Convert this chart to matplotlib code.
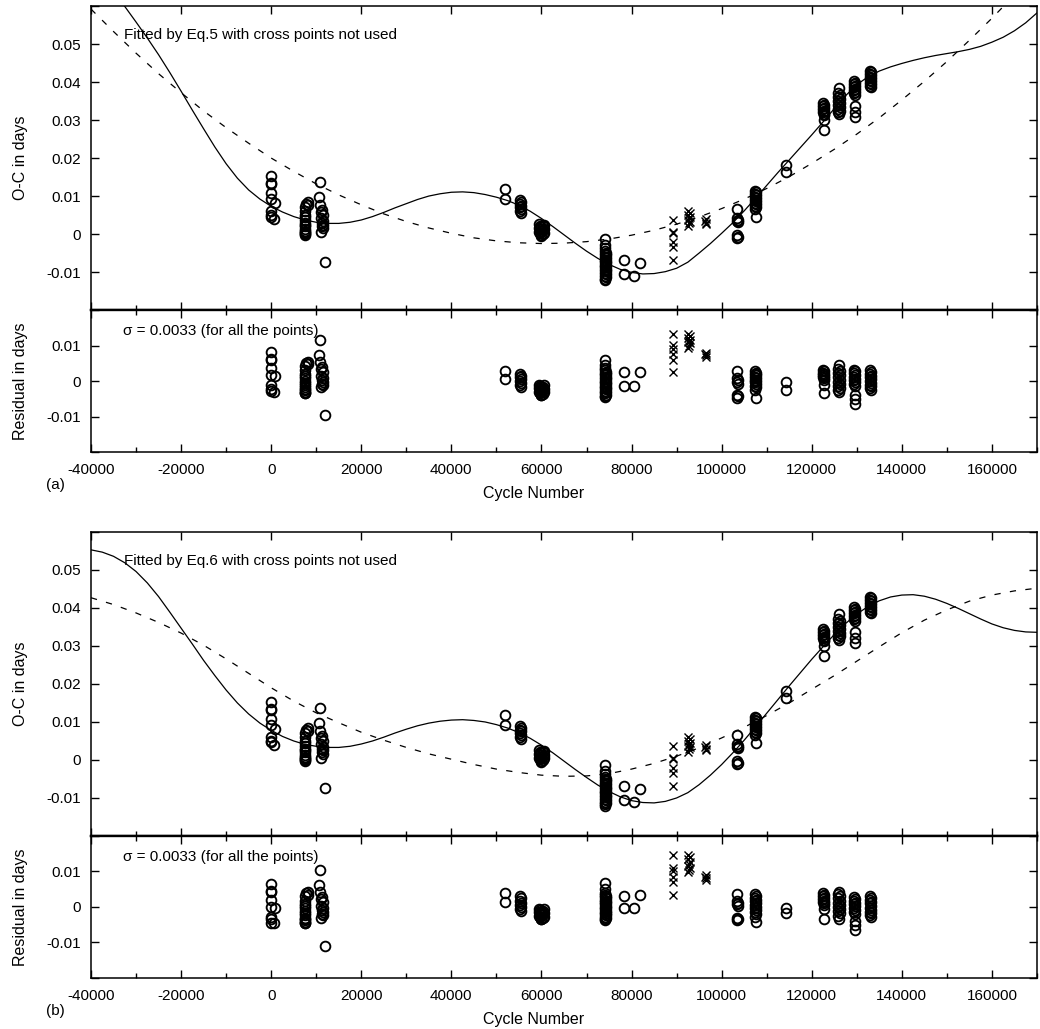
import matplotlib
matplotlib.use('Agg')
import matplotlib.pyplot as plt
import numpy as np
from matplotlib.ticker import MultipleLocator, FixedLocator

plt.rcParams['font.family'] = ['Liberation Sans', 'DejaVu Sans']
plt.rcParams['axes.unicode_minus'] = False

# ---- observed O-C (open circles), shared by both panels ----
cyc_o = [0, 0, 0, 0, 0, 800, 0, 0, 0, 700,
         8200, 7800, 8200, 7600, 7600, 7600, 7600, 7600, 7600, 7600, 7600, 7600, 7600, 7600, 7600, 7600, 7600,
         10900, 10700, 10800, 11300, 11100, 11500, 11000, 11400, 11200, 11600, 11300, 11500, 11100, 12000,
         51800, 51800,
         55200, 55500, 55200, 55500, 55200, 55500, 55200, 55500,
         59400, 60600, 59700, 60300, 60000, 59400, 60600, 59700, 60300, 60000, 59400, 60600, 59700, 60300, 60000, 60000,
         74100, 74000, 74200,
         74000, 74400, 74100, 74300, 74000, 74400, 74100, 74300, 74000, 74400, 74100,
         74300, 74000, 74400, 74100, 74300, 74000, 74400, 74100, 74300, 74000, 74200,
         78300, 78300, 80500, 81800,
         103500, 103500, 103700, 103500, 103700, 103500, 103700, 103500,
         107400, 107700, 107400, 107700, 107400, 107700, 107400, 107700, 107400, 107700, 107400, 107700, 107500, 107700,
         114200, 114200,
         122600, 122800, 122600, 122800, 122600, 122800, 122600, 122800, 122700, 122700, 122700,
         126000, 125900, 126200, 125900, 126200, 125900, 126200, 125900, 126200, 125900, 126200, 125900, 126100,
         129400, 129700, 129400, 129700, 129400, 129700, 129400, 129700, 129400, 129700, 129500, 129500, 129500,
         133000, 133200, 133000, 133200, 133000, 133200, 133000, 133200, 133000, 133200, 133000, 133200]

oc_o = [0.0153, 0.0135, 0.0131, 0.0109, 0.0092, 0.0082, 0.0061, 0.0050, 0.0046, 0.0039,
        0.0085, 0.0080, 0.0077, 0.0072, 0.0060, 0.0050, 0.0045, 0.0038, 0.0030, 0.0025, 0.0020, 0.0012, 0.0008, 0.0005, 0.0002, 0.0000, -0.0002,
        0.0138, 0.0097, 0.0076, 0.0063, 0.0058, 0.0050, 0.0042, 0.0035, 0.0030, 0.0025, 0.0020, 0.0015, 0.0006, -0.0073,
        0.0118, 0.0093,
        0.0089, 0.0085, 0.0080, 0.0075, 0.0070, 0.0065, 0.0060, 0.0055,
        0.0026, 0.0024, 0.0022, 0.0020, 0.0018, 0.0016, 0.0014, 0.0012, 0.0010, 0.0008, 0.0006, 0.0004, 0.0002, 0.0000, -0.0003, -0.0006,
        -0.0014, -0.0029, -0.0038,
        -0.0045, -0.0049, -0.0053, -0.0056, -0.0060, -0.0063, -0.0067, -0.0070, -0.0074, -0.0077, -0.0081,
        -0.0084, -0.0088, -0.0091, -0.0095, -0.0098, -0.0102, -0.0106, -0.0110, -0.0113, -0.0117, -0.0120,
        -0.0068, -0.0105, -0.0110, -0.0077,
        0.0065, 0.0042, 0.0038, 0.0035, 0.0032, -0.0003, -0.0008, -0.0011,
        0.0113, 0.0110, 0.0106, 0.0102, 0.0098, 0.0094, 0.0090, 0.0086, 0.0082, 0.0078, 0.0074, 0.0070, 0.0066, 0.0045,
        0.0182, 0.0164,
        0.0345, 0.0340, 0.0336, 0.0332, 0.0328, 0.0324, 0.0320, 0.0316, 0.0312, 0.0300, 0.0273,
        0.0385, 0.0370, 0.0365, 0.0360, 0.0355, 0.0350, 0.0345, 0.0340, 0.0335, 0.0330, 0.0325, 0.0320, 0.0315,
        0.0402, 0.0398, 0.0394, 0.0390, 0.0386, 0.0382, 0.0378, 0.0374, 0.0370, 0.0366, 0.0336, 0.0322, 0.0309,
        0.0430, 0.0426, 0.0422, 0.0418, 0.0414, 0.0410, 0.0406, 0.0402, 0.0398, 0.0394, 0.0390, 0.0386]

res_a_o = [0.0082, 0.0061, 0.0058, 0.0036, 0.0017, 0.0013, -0.0011, -0.0023, -0.0028, -0.0031,
           0.0055, 0.0050, 0.0047, 0.0042, 0.0030, 0.0020, 0.0015, 0.0008, 0.0000, -0.0005, -0.0010, -0.0018, -0.0022, -0.0026, -0.0030, -0.0033, -0.0035,
           0.0115, 0.0074, 0.0053, 0.0040, 0.0035, 0.0025, 0.0015, 0.0008, 0.0003, -0.0002, -0.0008, -0.0012, -0.0018, -0.0097,
           0.0029, 0.0006,
           0.0020, 0.0015, 0.0010, 0.0005, 0.0000, -0.0005, -0.0010, -0.0016,
           -0.0010, -0.0012, -0.0014, -0.0016, -0.0018, -0.0020, -0.0022, -0.0024, -0.0026, -0.0028, -0.0030, -0.0032, -0.0034, -0.0036, -0.0038, -0.0040,
           0.0058, 0.0044, 0.0036,
           0.0030, 0.0026, 0.0023, 0.0019, 0.0016, 0.0012, 0.0009, 0.0005, 0.0001, -0.0002, -0.0006,
           -0.0009, -0.0013, -0.0016, -0.0020, -0.0023, -0.0027, -0.0031, -0.0034, -0.0038, -0.0041, -0.0045,
           0.0025, -0.0013, -0.0013, 0.0025,
           0.0027, 0.0008, 0.0003, -0.0002, -0.0007, -0.0038, -0.0043, -0.0047,
           0.0028, 0.0024, 0.0020, 0.0016, 0.0012, 0.0008, 0.0004, 0.0000, -0.0004, -0.0008, -0.0013, -0.0018, -0.0024, -0.0049,
           -0.0004, -0.0025,
           0.0030, 0.0027, 0.0024, 0.0021, 0.0018, 0.0015, 0.0012, 0.0008, 0.0004, -0.0010, -0.0033,
           0.0045, 0.0034, 0.0028, 0.0022, 0.0016, 0.0010, 0.0004, -0.0002, -0.0008, -0.0014, -0.0020, -0.0025, -0.0030,
           0.0032, 0.0027, 0.0022, 0.0017, 0.0012, 0.0007, 0.0002, -0.0003, -0.0008, -0.0013, -0.0038, -0.0051, -0.0065,
           0.0030, 0.0025, 0.0020, 0.0015, 0.0010, 0.0005, 0.0000, -0.0005, -0.0010, -0.0015, -0.0020, -0.0025]

res_b_o = [0.0065, 0.0046, 0.0041, 0.0019, 0.0001, -0.0002, -0.0027, -0.0035, -0.0044, -0.0046,
           0.0042, 0.0038, 0.0035, 0.0030, 0.0018, 0.0008, 0.0003, -0.0004, -0.0012, -0.0017, -0.0022, -0.0030, -0.0034, -0.0038, -0.0041, -0.0044, -0.0046,
           0.0103, 0.0062, 0.0041, 0.0028, 0.0023, 0.0013, 0.0003, -0.0004, -0.0009, -0.0014, -0.0020, -0.0024, -0.0030, -0.0109,
           0.0038, 0.0014,
           0.0030, 0.0024, 0.0018, 0.0012, 0.0006, 0.0000, -0.0006, -0.0011,
           -0.0005, -0.0007, -0.0009, -0.0011, -0.0013, -0.0015, -0.0017, -0.0019, -0.0021, -0.0023, -0.0025, -0.0027, -0.0029, -0.0031, -0.0033, -0.0035,
           0.0067, 0.0051, 0.0040,
           0.0034, 0.0031, 0.0027, 0.0024, 0.0020, 0.0017, 0.0013, 0.0010, 0.0007, 0.0003, 0.0000,
           -0.0004, -0.0007, -0.0010, -0.0014, -0.0017, -0.0021, -0.0024, -0.0027, -0.0031, -0.0034, -0.0037,
           0.0031, -0.0004, -0.0004, 0.0033,
           0.0036, 0.0017, 0.0012, 0.0008, 0.0003, -0.0030, -0.0034, -0.0037,
           0.0036, 0.0031, 0.0026, 0.0021, 0.0016, 0.0011, 0.0006, 0.0001, -0.0004, -0.0009, -0.0015, -0.0021, -0.0028, -0.0043,
           -0.0002, -0.0018,
           0.0038, 0.0034, 0.0030, 0.0026, 0.0022, 0.0018, 0.0014, 0.0010, 0.0005, -0.0007, -0.0035,
           0.0043, 0.0036, 0.0030, 0.0024, 0.0018, 0.0012, 0.0006, 0.0000, -0.0006, -0.0012, -0.0018, -0.0026, -0.0035,
           0.0027, 0.0022, 0.0017, 0.0012, 0.0007, 0.0002, -0.0003, -0.0008, -0.0013, -0.0021, -0.0040, -0.0052, -0.0066,
           0.0030, 0.0025, 0.0020, 0.0015, 0.0010, 0.0004, -0.0002, -0.0008, -0.0013, -0.0018, -0.0023, -0.0027]

# ---- points not used in the fit (crosses) ----
cyc_x = [89200, 89200, 89200, 89200, 89200, 89200,
         92500, 92900, 92600, 93000, 92700, 92500, 92900, 92700, 92600,
         96500, 96400, 96600, 96500]
oc_x = [0.0036, 0.0006, 0.0002, -0.0020, -0.0033, -0.0068,
        0.0060, 0.0055, 0.0050, 0.0045, 0.0042, 0.0038, 0.0033, 0.0028, 0.0022,
        0.0040, 0.0034, 0.0030, 0.0026]
res_a_x = [0.0132, 0.0101, 0.0091, 0.0077, 0.0058, 0.0025,
           0.0133, 0.0128, 0.0122, 0.0117, 0.0113, 0.0110, 0.0106, 0.0100, 0.0093,
           0.0080, 0.0075, 0.0072, 0.0068]
res_b_x = [0.0146, 0.0110, 0.0101, 0.0084, 0.0070, 0.0033,
           0.0146, 0.0140, 0.0134, 0.0128, 0.0122, 0.0116, 0.0110, 0.0104, 0.0098,
           0.0089, 0.0085, 0.0081, 0.0077]

# ---- fitted curves ----
cyc_fine = np.arange(-40000, 170001, 2500)   # solid fits, every 2500 cycles
cyc_fit = np.arange(-40000, 170001, 5000)    # dashed fits, every 5000 cycles

fit_a = [0.0725, 0.0682, 0.0640, 0.0599, 0.0558, 0.0516, 0.0472, 0.0425, 0.0376, 0.0326,
         0.0277, 0.0229, 0.0185, 0.0147, 0.0116, 0.0092, 0.0073, 0.0058, 0.0046, 0.0037,
         0.0031, 0.0028, 0.0028, 0.0031, 0.0037, 0.0046, 0.0057, 0.0069, 0.0080, 0.0091,
         0.0100, 0.0106, 0.0110, 0.0111, 0.0109, 0.0104, 0.0097, 0.0088, 0.0076, 0.0060,
         0.0041, 0.0020, -0.0002, -0.0024, -0.0045, -0.0064, -0.0080, -0.0093, -0.0101, -0.0105,
         -0.0104, -0.0099, -0.0090, -0.0074, -0.0050, -0.0025, 0.0002, 0.0030, 0.0061, 0.0094,
         0.0128, 0.0162, 0.0195, 0.0228, 0.0261, 0.0295, 0.0330, 0.0364, 0.0393, 0.0414,
         0.0429, 0.0440, 0.0449, 0.0457, 0.0464, 0.0470, 0.0475, 0.0480, 0.0486, 0.0494,
         0.0505, 0.0518, 0.0535, 0.0556, 0.0582]
quad_a = [0.0592, 0.0533, 0.0476, 0.0422, 0.0372, 0.0324, 0.0280, 0.0239, 0.0200, 0.0165,
          0.0132, 0.0103, 0.0077, 0.0053, 0.0033, 0.0016, 0.0002, -0.0010, -0.0018, -0.0023,
          -0.0025, -0.0024, -0.0020, -0.0013, -0.0003, 0.0010, 0.0026, 0.0045, 0.0067, 0.0092,
          0.0120, 0.0151, 0.0186, 0.0223, 0.0263, 0.0306, 0.0353, 0.0402, 0.0454, 0.0510,
          0.0568, 0.0629, 0.0694]
fit_b = [0.0553, 0.0547, 0.0536, 0.0519, 0.0496, 0.0466, 0.0430, 0.0389, 0.0347, 0.0305,
         0.0262, 0.0222, 0.0184, 0.0150, 0.0121, 0.0097, 0.0078, 0.0062, 0.0050, 0.0041,
         0.0036, 0.0033, 0.0033, 0.0036, 0.0042, 0.0050, 0.0060, 0.0071, 0.0081, 0.0090,
         0.0097, 0.0102, 0.0105, 0.0106, 0.0104, 0.0100, 0.0093, 0.0084, 0.0072, 0.0057,
         0.0039, 0.0019, -0.0003, -0.0025, -0.0046, -0.0066, -0.0083, -0.0097, -0.0107, -0.0112,
         -0.0113, -0.0109, -0.0100, -0.0086, -0.0065, -0.0040, -0.0012, 0.0019, 0.0052, 0.0087,
         0.0123, 0.0159, 0.0195, 0.0230, 0.0265, 0.0298, 0.0330, 0.0359, 0.0384, 0.0404,
         0.0419, 0.0429, 0.0434, 0.0435, 0.0431, 0.0423, 0.0412, 0.0399, 0.0385, 0.0371,
         0.0358, 0.0348, 0.0341, 0.0337, 0.0336]
quad_b = [0.0427, 0.0409, 0.0387, 0.0362, 0.0334, 0.0302, 0.0266, 0.0228, 0.0190, 0.0155,
          0.0124, 0.0098, 0.0073, 0.0052, 0.0033, 0.0016, 0.0002, -0.0012, -0.0024, -0.0033,
          -0.0040, -0.0043, -0.0042, -0.0036, -0.0024, -0.0009, 0.0010, 0.0032, 0.0058, 0.0086,
          0.0117, 0.0150, 0.0186, 0.0222, 0.0260, 0.0298, 0.0335, 0.0368, 0.0395, 0.0418,
          0.0434, 0.0445, 0.0452]

eq_labels = ['Fitted by Eq.5 with cross points not used',
             'Fitted by Eq.6 with cross points not used']
sigma_text = '\u03c3 = 0.0033 (for all the points)'
panel_tags = ['(a)', '(b)']

fig = plt.figure(figsize=(10.4, 10.29), dpi=100)

L, W = 0.0875, 0.9096
tops = [(0.6987, 0.5607), (0.1876, 0.0496)]
fits = [(fit_a, quad_a, res_a_o, res_a_x), (fit_b, quad_b, res_b_o, res_b_x)]

circ = dict(ls='none', marker='o', ms=7, mfc='none', mec='k', mew=1.35)
cross = dict(ls='none', marker='x', ms=5.5, mec='k', mew=1.0)


def style(ax, xlabels):
    ax.set_xlim(-40000, 170000)
    ax.xaxis.set_major_locator(MultipleLocator(20000))
    ax.xaxis.set_minor_locator(MultipleLocator(10000))
    ax.tick_params(which='both', direction='in', top=True, right=True,
                   labelsize=11, pad=7)
    ax.tick_params(which='major', length=6, width=1)
    ax.tick_params(which='minor', length=3.5, width=1)
    ax.tick_params(axis='x', labelbottom=xlabels, pad=8)
    ax.tick_params(axis='y', which='minor', left=False, right=False)
    for s in ax.spines.values():
        s.set_linewidth(1.1)


for k in range(2):
    b1, b2 = tops[k]
    fit, quad, res_o, res_x = fits[k]

    ax1 = fig.add_axes([L, b1, W, 0.2954])
    ax2 = fig.add_axes([L, b2, W, 0.1380])

    ax1.plot(cyc_fine, fit, color='k', lw=0.9)
    ax1.plot(cyc_fit, quad, color='k', lw=0.9, ls=(0, (5, 7.5)))
    ax1.plot(cyc_o, oc_o, **circ)
    ax1.plot(cyc_x, oc_x, **cross)
    ax1.set_ylim(-0.02, 0.06)
    ax1.yaxis.set_major_locator(FixedLocator([-0.02, -0.01, 0, 0.01, 0.02, 0.03, 0.04, 0.05, 0.06]))
    ax1.set_yticklabels(['', '-0.01', '0', '0.01', '0.02', '0.03', '0.04', '0.05', ''])
    style(ax1, False)
    ax1.tick_params(axis='x', which='minor', top=False)
    ax1.spines['bottom'].set_linewidth(1.7)
    ax1.set_ylabel('O-C in days', fontsize=11.5)
    ax1.yaxis.set_label_coords(-0.0665, 0.5)
    ax1.text(0.035, 0.905, eq_labels[k], transform=ax1.transAxes,
             fontsize=11, va='center', ha='left')

    ax2.plot(cyc_o, res_o, **circ)
    ax2.plot(cyc_x, res_x, **cross)
    ax2.set_ylim(-0.02, 0.02)
    ax2.yaxis.set_major_locator(FixedLocator([-0.02, -0.01, 0, 0.01, 0.02]))
    ax2.set_yticklabels(['', '-0.01', '0', '0.01', ''])
    style(ax2, True)
    ax2.spines['top'].set_linewidth(1.7)
    ax2.set_xticks(np.arange(-40000, 170001, 20000))
    ax2.set_xticklabels([str(v) for v in range(-40000, 170001, 20000)])
    ax2.set_ylabel('Residual in days', fontsize=11.5)
    ax2.yaxis.set_label_coords(-0.0665, 0.5)
    ax2.text(0.034, 0.854, sigma_text, transform=ax2.transAxes,
             fontsize=11, va='center', ha='left')
    ax2.set_xlabel('Cycle Number', fontsize=11.5)
    ax2.xaxis.set_label_coords((534 - 91) / 946, -0.24)
    ax2.text(-0.048, -0.235, panel_tags[k], transform=ax2.transAxes,
             fontsize=11, va='center', ha='left')

fig.savefig('out.png', dpi=100)
